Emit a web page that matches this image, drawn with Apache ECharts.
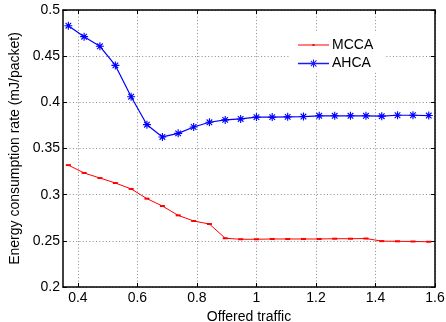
<!DOCTYPE html>
<html>
<head>
<meta charset="utf-8">
<script src="https://cdn.jsdelivr.net/npm/echarts@6/dist/echarts.min.js"></script>
<style>
  html, body { margin: 0; padding: 0; background: #fff; }
  #chart { width: 446px; height: 322px; }
</style>
</head>
<body>
<div id="chart"></div>
<script>
// Offered traffic values (x) shared by both schemes
const offeredTraffic = [0.368, 0.421, 0.474, 0.526, 0.579, 0.632, 0.684, 0.737,
  0.789, 0.842, 0.895, 0.947, 1.0, 1.053, 1.105, 1.158, 1.211, 1.263,
  1.316, 1.368, 1.421, 1.474, 1.526, 1.579];

// Energy consumption rate (mJ/packet)
const mccaEnergy = [0.332, 0.3235, 0.318, 0.3126, 0.3062, 0.2957, 0.2877, 0.2776,
  0.2715, 0.2682, 0.2528, 0.2517, 0.2517, 0.252, 0.252, 0.252, 0.252, 0.2523,
  0.2523, 0.2525, 0.2497, 0.2495, 0.2493, 0.249];
const ahcaEnergy = [0.483, 0.4711, 0.4607, 0.440, 0.4061, 0.3758, 0.3625, 0.3664,
  0.3733, 0.3784, 0.381, 0.382, 0.384, 0.384, 0.3843, 0.3846, 0.3854, 0.3854,
  0.3854, 0.3854, 0.385, 0.386, 0.386, 0.3857];

// Tick positions
const xTicks = [0.4, 0.6, 0.8, 1.0, 1.2, 1.4, 1.6];
const yTicks = [0.2, 0.25, 0.3, 0.35, 0.4, 0.45, 0.5];

const FONT = 'Liberation Sans, Arial, Helvetica, sans-serif';

// Asterisk marker built from four bars
const asterisk = 'path://M-0.7,-5L0.7,-5L0.7,5L-0.7,5Z' +
  'M-5,-0.7L5,-0.7L5,0.7L-5,0.7Z' +
  'M-3,-4L4,3L3,4L-4,-3Z' +
  'M-4,3L3,-4L4,-3L-3,4Z';

// Legend icons: a 31px line sample with the series marker in its middle
const mccaIcon = 'path://M0,3.5L31,3.5L31,4.5L0,4.5Z M14.5,3L16.5,3L16.5,5L14.5,5Z';
const ahcaIcon = 'path://M0,3.3L31,3.3L31,4.7L0,4.7Z' +
  'M15,0L16,0L16,8L15,8Z' +
  'M11.5,3.3L19.5,3.3L19.5,4.7L11.5,4.7Z' +
  'M13.2,1.1L18.8,6.7L18.1,7.4L12.5,1.8Z' +
  'M12.5,6.2L18.1,0.6L18.8,1.3L13.2,6.9Z';

function pairs(xs, ys) { return xs.map((x, i) => [x, ys[i]]); }

const frameAxisLine = { show: true, onZero: false, lineStyle: { color: '#000', width: 1.5 } };
const innerTick = { show: true, inside: true, length: 4, lineStyle: { color: '#000', width: 1 } };
const dotted = { show: true, lineStyle: { color: '#8c8c8c', width: 1, type: [1, 2.3] } };

const xBase = { type: 'value', min: 0.35, max: 1.6, axisLine: frameAxisLine };
const yBase = { type: 'value', min: 0.2, max: 0.5, interval: 0.05, axisLine: frameAxisLine };

const chart = echarts.init(document.getElementById('chart'), null, { renderer: 'canvas' });
chart.setOption({
  animation: false,
  backgroundColor: '#fff',
  textStyle: { fontFamily: FONT },
  grid: { left: 63, right: 11, top: 10, bottom: 35, containLabel: false, outerBoundsMode: 'none' },
  xAxis: [
    Object.assign({}, xBase, {
      position: 'bottom',
      axisTick: Object.assign({}, innerTick, { customValues: xTicks }),
      axisLabel: { customValues: xTicks, margin: 4, color: '#000', fontSize: 14, fontFamily: FONT },
      splitLine: dotted,
      name: 'Offered traffic',
      nameLocation: 'middle',
      nameGap: 20,
      nameTextStyle: { color: '#000', fontSize: 14, fontFamily: FONT }
    }),
    Object.assign({}, xBase, {
      position: 'top',
      axisTick: Object.assign({}, innerTick, { customValues: xTicks }),
      axisLabel: { show: false, customValues: xTicks },
      splitLine: { show: false }
    })
  ],
  yAxis: [
    Object.assign({}, yBase, {
      position: 'left',
      axisTick: innerTick,
      axisLabel: { margin: 3, color: '#000', fontSize: 14, fontFamily: FONT },
      splitLine: dotted,
      name: 'Energy consumption rate (mJ/packet)',
      nameLocation: 'middle',
      nameGap: 37,
      nameTextStyle: { color: '#000', fontSize: 14, fontFamily: FONT }
    }),
    Object.assign({}, yBase, {
      position: 'right',
      axisTick: innerTick,
      axisLabel: { show: false },
      splitLine: { show: false }
    })
  ],
  legend: {
    orient: 'vertical',
    left: 290,
    top: 33,
    padding: [5, 11, 2, 8],
    itemGap: 4.5,
    itemWidth: 31,
    itemHeight: 14,
    backgroundColor: '#fff',
    borderWidth: 0,
    symbolKeepAspect: true,
    textStyle: { color: '#000', fontSize: 14, fontFamily: FONT, padding: [0, 0, 0, -2] },
    data: [
      {
        name: 'MCCA', icon: mccaIcon,
        itemStyle: { color: '#ff0000', borderColor: '#ff0000', borderWidth: 0 },
        lineStyle: { color: '#ff0000', width: 0 }
      },
      {
        name: 'AHCA', icon: ahcaIcon,
        itemStyle: { color: '#1a1aff', borderColor: '#1a1aff', borderWidth: 0 },
        lineStyle: { color: '#1a1aff', width: 0 }
      }
    ]
  },
  series: [
    {
      name: 'MCCA',
      type: 'line',
      xAxisIndex: 0,
      yAxisIndex: 0,
      data: pairs(offeredTraffic, mccaEnergy),
      symbol: 'rect',
      symbolSize: [5, 2],
      showSymbol: true,
      color: '#ff0000',
      lineStyle: { color: '#ff0000', width: 1 },
      itemStyle: { color: '#ff0000' },
      z: 3
    },
    {
      name: 'AHCA',
      type: 'line',
      xAxisIndex: 0,
      yAxisIndex: 0,
      data: pairs(offeredTraffic, ahcaEnergy),
      symbol: asterisk,
      symbolSize: 8,
      showSymbol: true,
      color: '#0000ff',
      lineStyle: { color: '#0000ff', width: 1.2 },
      itemStyle: { color: '#0000ff' },
      z: 3
    }
  ]
});
</script>
</body>
</html>
